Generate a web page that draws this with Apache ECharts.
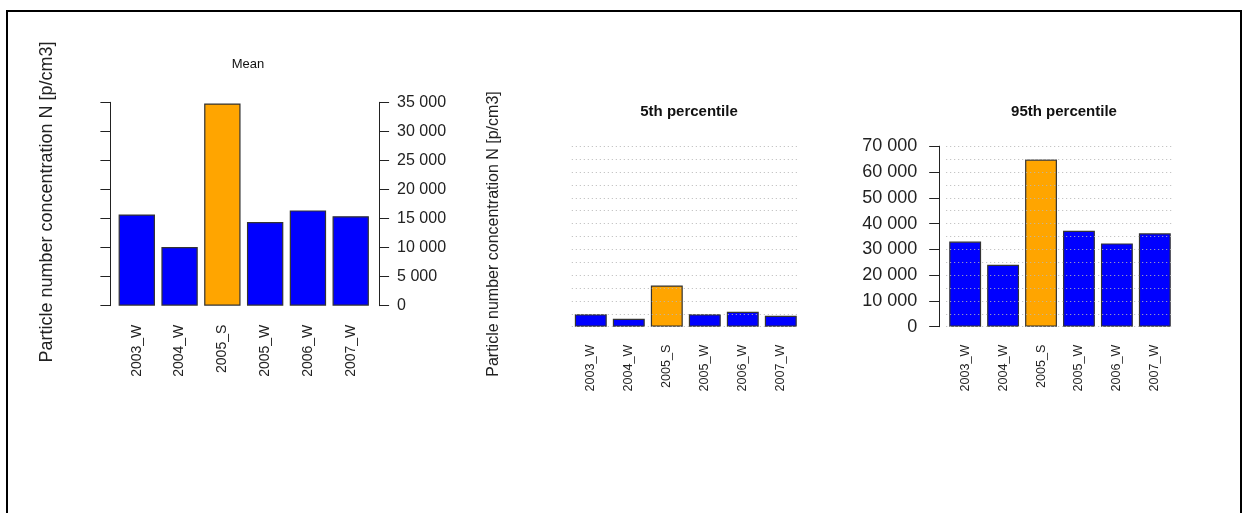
<!DOCTYPE html>
<html>
<head>
<meta charset="utf-8">
<script src="https://cdn.jsdelivr.net/npm/echarts@6/dist/echarts.min.js"></script>
<style>
html,body{margin:0;padding:0;background:#fff;}
#c{width:1242px;height:513px;}
</style>
</head>
<body>
<div id="c"></div>
<script>
var categories = ['2003_W', '2004_W', '2005_S', '2005_W', '2006_W', '2007_W'];
var meanValues = [15700, 10100, 34800, 14400, 16400, 15400];
var p5Values = [4800, 3100, 16000, 4800, 5800, 4200];
var p95Values = [33000, 24000, 64800, 37200, 32300, 36200];
var titles = ['Mean', '5th percentile', '95th percentile'];
var yTitle = 'Particle number concentration N [p/cm3]';

var FONT = '"Liberation Sans", Arial, sans-serif';
function fmt(v) { return String(v).replace(/\B(?=(\d{3})+(?!\d))/g, ' '); }
function barColor(cat) { return /_S$/.test(cat) ? '#FFA500' : '#0000FF'; }
function barData(vals) {
  return vals.map(function (v, i) {
    return { value: v, itemStyle: { color: barColor(categories[i]) } };
  });
}
var dotted = { color: '#b8b8b8', width: 1, type: [1, 3] };

var chart = echarts.init(document.getElementById('c'), null, { renderer: 'canvas' });
var xLabelBase = { rotate: 90, color: '#222', fontFamily: FONT };
chart.setOption({
  animation: false,
  backgroundColor: '#fff',
  title: [
    { text: titles[0], left: 243, top: 53, textAlign: 'center',
      textStyle: { fontSize: 13, fontWeight: 'normal', color: '#111', fontFamily: FONT } },
    { text: titles[1], left: 684, top: 99, textAlign: 'center',
      textStyle: { fontSize: 15, fontWeight: 'bold', color: '#111', fontFamily: FONT } },
    { text: titles[2], left: 1059, top: 99, textAlign: 'center',
      textStyle: { fontSize: 15, fontWeight: 'bold', color: '#111', fontFamily: FONT } }
  ],
  graphic: [
    { type: 'rect', shape: { x: 7, y: 11, width: 1234, height: 600 },
      style: { fill: 'none', stroke: '#000', lineWidth: 2 }, silent: true },
    { type: 'text', x: 47, y: 202, rotation: Math.PI / 2,
      style: { text: yTitle, fontSize: 18, fontFamily: FONT, fill: '#222',
               align: 'center', verticalAlign: 'middle' } },
    { type: 'text', x: 494, y: 234, rotation: Math.PI / 2,
      style: { text: yTitle, fontSize: 16, fontFamily: FONT, fill: '#222',
               align: 'center', verticalAlign: 'middle' } }
  ],
  grid: [
    { left: 115.4, width: 256.7, top: 102.3, height: 203.4 },
    { left: 571.8, width: 228, top: 146.2, height: 180.5 },
    { left: 946.2, width: 227.6, top: 146.2, height: 180.5 }
  ],
  xAxis: [0, 1, 2].map(function (g) {
    return {
      type: 'category', gridIndex: g, data: categories,
      axisLine: { show: false }, axisTick: { show: false },
      axisLabel: Object.assign({}, xLabelBase, {
        fontSize: g === 0 ? 14 : 12.6, margin: g === 0 ? 19 : 18, interval: 0
      })
    };
  }),
  yAxis: [
    { type: 'value', gridIndex: 0, min: 0, max: 35000, interval: 5000, position: 'left', offset: 5,
      axisLine: { show: true, lineStyle: { color: '#222', width: 1 } },
      axisTick: { show: true, length: 10, lineStyle: { color: '#222' } },
      axisLabel: { show: false }, splitLine: { show: false } },
    { type: 'value', gridIndex: 0, min: 0, max: 35000, interval: 5000, position: 'right', offset: 7,
      axisLine: { show: true, lineStyle: { color: '#222', width: 1 } },
      axisTick: { show: true, length: 10, lineStyle: { color: '#222' } },
      axisLabel: { show: true, margin: 18, fontSize: 16, color: '#222', fontFamily: FONT, formatter: fmt },
      splitLine: { show: false } },
    { type: 'value', gridIndex: 1, min: 0, max: 70000, interval: 10000, z: 10,
      axisLine: { show: false }, axisTick: { show: false }, axisLabel: { show: false },
      splitLine: { show: true, lineStyle: dotted },
      minorTick: { show: false, splitNumber: 2 },
      minorSplitLine: { show: true, lineStyle: dotted } },
    { type: 'value', gridIndex: 2, min: 0, max: 70000, interval: 10000, z: 10, offset: 7,
      axisLine: { show: true, lineStyle: { color: '#222', width: 1 } },
      axisTick: { show: true, length: 10, lineStyle: { color: '#222' } },
      axisLabel: { show: true, margin: 22, fontSize: 18, color: '#222', fontFamily: FONT, formatter: fmt },
      splitLine: { show: true, lineStyle: dotted },
      minorTick: { show: false, splitNumber: 2 },
      minorSplitLine: { show: true, lineStyle: dotted } }
  ],
  series: [
    { type: 'bar', xAxisIndex: 0, yAxisIndex: 1, data: barData(meanValues), barCategoryGap: '15%',
      itemStyle: { borderColor: '#333', borderWidth: 1.2 } },
    { type: 'bar', xAxisIndex: 1, yAxisIndex: 2, data: barData(p5Values), barCategoryGap: '16%',
      itemStyle: { borderColor: '#333', borderWidth: 1.2 } },
    { type: 'bar', xAxisIndex: 2, yAxisIndex: 3, data: barData(p95Values), barCategoryGap: '16%',
      itemStyle: { borderColor: '#333', borderWidth: 1.2 } }
  ]
});
</script>
</body>
</html>
